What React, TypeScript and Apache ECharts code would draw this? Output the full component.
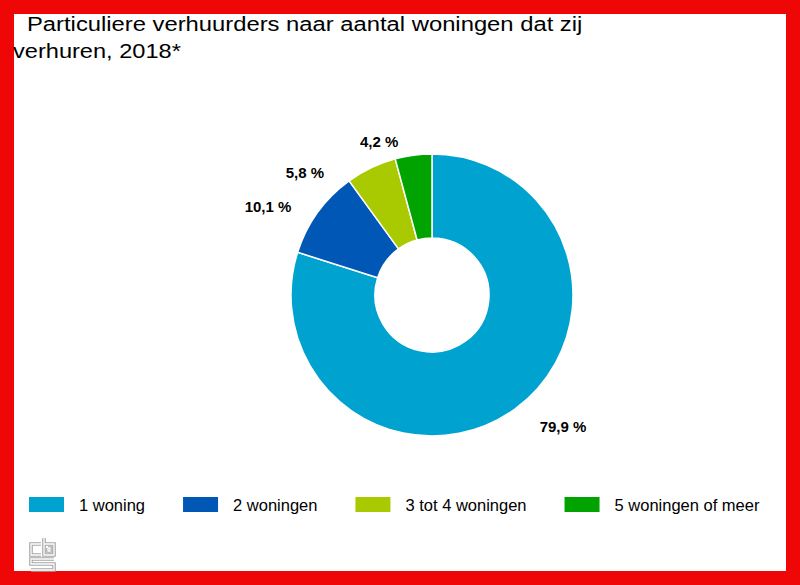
import React, { useEffect, useRef } from "react";
import * as echarts from "echarts";

const titleLine1 = "Particuliere verhuurders naar aantal woningen dat zij";
const titleLine2 = "verhuren, 2018*";
const categories = ["1 woning", "2 woningen", "3 tot 4 woningen", "5 woningen of meer"];
const values = [79.9, 10.1, 5.8, 4.2];
const colors = ["#00a2cf", "#0057b6", "#a9c900", "#00a300"];
// small nudges of the outside labels (mimicking the original's label spreading)
const labelNudgeX = [4, -7, -27, -2];
const labelNudgeY = [5, 3, 16, 2];

const FONT = "Liberation Sans, Arial, Helvetica, sans-serif";

export default function App() {
  const ref = useRef<HTMLDivElement>(null);
  useEffect(() => {
    if (!ref.current) return;
    const chart = echarts.init(ref.current, undefined, { renderer: "svg" });
    const logoStroke = (points: number[][]) => [
      { type: "polyline", shape: { points }, style: { stroke: "#a5a5a5", lineWidth: 3.6, fill: "none" }, z: 10 },
      { type: "polyline", shape: { points }, style: { stroke: "#ffffff", lineWidth: 1.3, fill: "none" }, z: 11 },
    ];
    const ox = 30, oy = 538;
    const P = (pts: number[][]) => pts.map(([x, y]) => [ox + x, oy + y]);
    chart.setOption({
      animation: false,
      legend: {
        left: 29,
        top: 496,
        padding: 0,
        itemWidth: 35,
        itemHeight: 15,
        itemGap: 38,
        icon: "rect",
        itemStyle: { borderWidth: 0 },
        textStyle: { fontFamily: FONT, fontSize: 16.5, color: "#000", padding: [0, 0, 0, 10] },
        data: categories,
      },
      series: [
        {
          type: "pie",
          center: [432, 295],
          radius: [57, 141],
          startAngle: 90,
          clockwise: true,
          avoidLabelOverlap: true,
          itemStyle: { borderColor: "#fff", borderWidth: 1.5 },
          label: {
            show: true,
            position: "outside",
            fontFamily: FONT,
            fontSize: 15,
            fontWeight: "bold",
            color: "#000",
            formatter: (p: any) => String(p.value).replace(".", ",") + " %",
          },
          labelLine: { show: false, length: 16, length2: 6 },
          labelLayout: (p: any) => ({ dx: labelNudgeX[p.dataIndex], dy: labelNudgeY[p.dataIndex] }),
          emphasis: { disabled: true },
          data: categories.map((c, i) => ({ name: c, value: values[i], itemStyle: { color: colors[i] } })),
        },
      ],
      graphic: [
        {
          type: "text", x: 27, y: 14, scaleX: 1.19, z: 20,
          style: { text: titleLine1, font: "20px " + FONT, fill: "#000", textVerticalAlign: "top" },
        },
        {
          type: "text", x: 13, y: 41, scaleX: 1.18, z: 20,
          style: { text: titleLine2, font: "20px " + FONT, fill: "#000", textVerticalAlign: "top" },
        },
        ...logoStroke(P([[11, 6], [1, 6], [1, 17], [11, 17]])),
        ...logoStroke(P([[14, 0], [14, 17], [24, 17], [24, 6], [14, 6]])),
        ...logoStroke(P([[18, 10], [20, 10], [20, 13], [18, 13], [18, 10]])),
        ...logoStroke(P([[24, 21], [1, 21], [1, 26], [24, 26], [24, 32], [1, 32]])),
      ],
    });
    return () => chart.dispose();
  }, []);
  return (
    <div style={{ position: "absolute", left: 0, top: 0, width: 800, height: 585, background: "#ef0606" }}>
      <div style={{ position: "absolute", left: 14, top: 14, width: 772, height: 557, background: "#fff" }} />
      <div ref={ref} style={{ position: "absolute", left: 0, top: 0, width: 800, height: 585 }} />
    </div>
  );
}
